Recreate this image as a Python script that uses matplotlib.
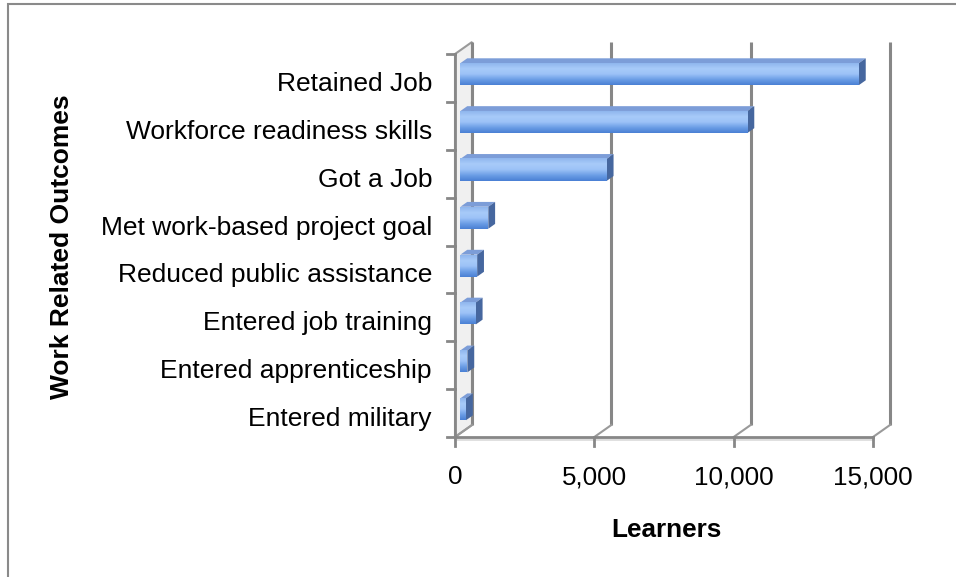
import numpy as np
import matplotlib.pyplot as plt
from matplotlib.patches import Polygon, Rectangle
from matplotlib.colors import LinearSegmentedColormap

plt.rcParams['font.family'] = ['Liberation Sans', 'DejaVu Sans']

# work related outcomes, bottom to top
outcomes = ["Entered military", "Entered apprenticeship", "Entered job training",
            "Reduced public assistance", "Met work-based project goal",
            "Got a Job", "Workforce readiness skills", "Retained Job"]
learners = [200, 250, 550, 600, 1000, 5250, 10300, 14300]
x_ticks = [0, 5000, 10000, 15000]
x_labels = ["0", "5,000", "10,000", "15,000"]

W, H = 956, 577
fig = plt.figure(figsize=(W / 100, H / 100), dpi=100)

# plot box in pixels: front floor edge and left wall
left, right, top, bottom = 455, 873, 54, 437
ax = fig.add_axes([left / W, 1 - bottom / H, (right - left) / W, (bottom - top) / H])
n = len(outcomes)
xmax = 15000
ax.set_xlim(0, xmax)
ax.set_ylim(-0.5, n - 0.5)
ax.axis('off')

# pixel -> data helpers for the 3d depth offsets
px_x = xmax / (right - left)
px_y = n / (bottom - top)
DX, DY = 17 * px_x, 12 * px_y
grid_c = '#878787'

# outer chart border
fig.add_artist(Rectangle((8 / W, -0.05), 1.1, (1 - 4 / H) + 0.05, transform=fig.transFigure,
                         fill=False, ec='#8a8a8a', lw=1.5))

# left side wall
wall = Polygon([(0, -0.5), (DX, -0.5 + DY), (DX, n - 0.5 + DY), (0, n - 0.5)],
               closed=True, fc='#f0f0f0', ec='#9a9a9a', lw=1.5, clip_on=False, zorder=1)
ax.add_patch(wall)

# back gridlines and floor diagonals
for v, lab in zip(x_ticks, x_labels):
    ax.plot([v + DX, v + DX], [-0.5 + DY, n - 0.5 + DY], color=grid_c, lw=2.2,
            clip_on=False, zorder=1, solid_capstyle='butt')
    ax.plot([v, v + DX], [-0.5, -0.5 + DY], color='#9a9a9a', lw=1.5, clip_on=False, zorder=1)
    ax.plot([v, v], [-0.5, -0.5 - 9 * px_y], color=grid_c, lw=2, clip_on=False, zorder=3)
    ax.text(v, -0.5 - 40 * px_y, lab, ha='center', va='center', fontsize=18.7, color='black')

# floor front edge
ax.plot([0, xmax], [-0.5 - 2 * px_y, -0.5 - 2 * px_y], color='#dddddd', lw=2, clip_on=False, zorder=2)
ax.plot([0, xmax], [-0.5, -0.5], color=grid_c, lw=2, clip_on=False, zorder=3)
ax.plot([0, 0], [-0.5, n - 0.5], color=grid_c, lw=2, clip_on=False, zorder=3)

# category ticks and labels
for k in range(n + 1):
    ax.plot([-8 * px_x, 0], [k - 0.5, k - 0.5], color=grid_c, lw=2, clip_on=False, zorder=3)
for i, name in enumerate(outcomes):
    ax.text(-23 * px_x, i - 6 * px_y, name, ha='right', va='center',
            fontsize=19, color='black')

# 3d bars: gradient front, top face, side face
grad = LinearSegmentedColormap.from_list('bar', ['#4a80d4', '#6c9ee6', '#9cc2f7', '#a8cbf9', '#8fb6ee'])
g = np.linspace(0, 1, 64).reshape(-1, 1)
off_x, off_y = 0.32 * DX, 0.32 * DY
bd_x, bd_y = 0.4 * DX, 0.4 * DY
h = 22 * px_y
for i, v in enumerate(learners):
    x0, x1 = off_x, v + off_x
    y0, y1 = i + off_y - h / 2, i + off_y + h / 2
    ax.add_patch(Polygon([(x0, y1), (x1, y1), (x1 + bd_x, y1 + bd_y), (x0 + bd_x, y1 + bd_y)],
                         closed=True, fc='#7c9dd8', ec='none', clip_on=False, zorder=4))
    ax.add_patch(Polygon([(x1, y0), (x1 + bd_x, y0 + bd_y), (x1 + bd_x, y1 + bd_y), (x1, y1)],
                         closed=True, fc='#46679f', ec='none', clip_on=False, zorder=4))
    ax.imshow(g, cmap=grad, extent=[x0, x1, y0, y1], origin='lower', aspect='auto',
              zorder=5, clip_on=False, interpolation='bilinear')

ax.set_xlim(0, xmax)
ax.set_ylim(-0.5, n - 0.5)

fig.text(666 / W, 1 - 530 / H, "Learners", ha='center', va='center', fontsize=18.8,
         fontweight='bold')
fig.text(62 / W, 1 - 247 / H, "Work Related Outcomes", ha='center', va='center',
         fontsize=19, fontweight='bold', rotation=90)

fig.savefig('out.png', dpi=100)
